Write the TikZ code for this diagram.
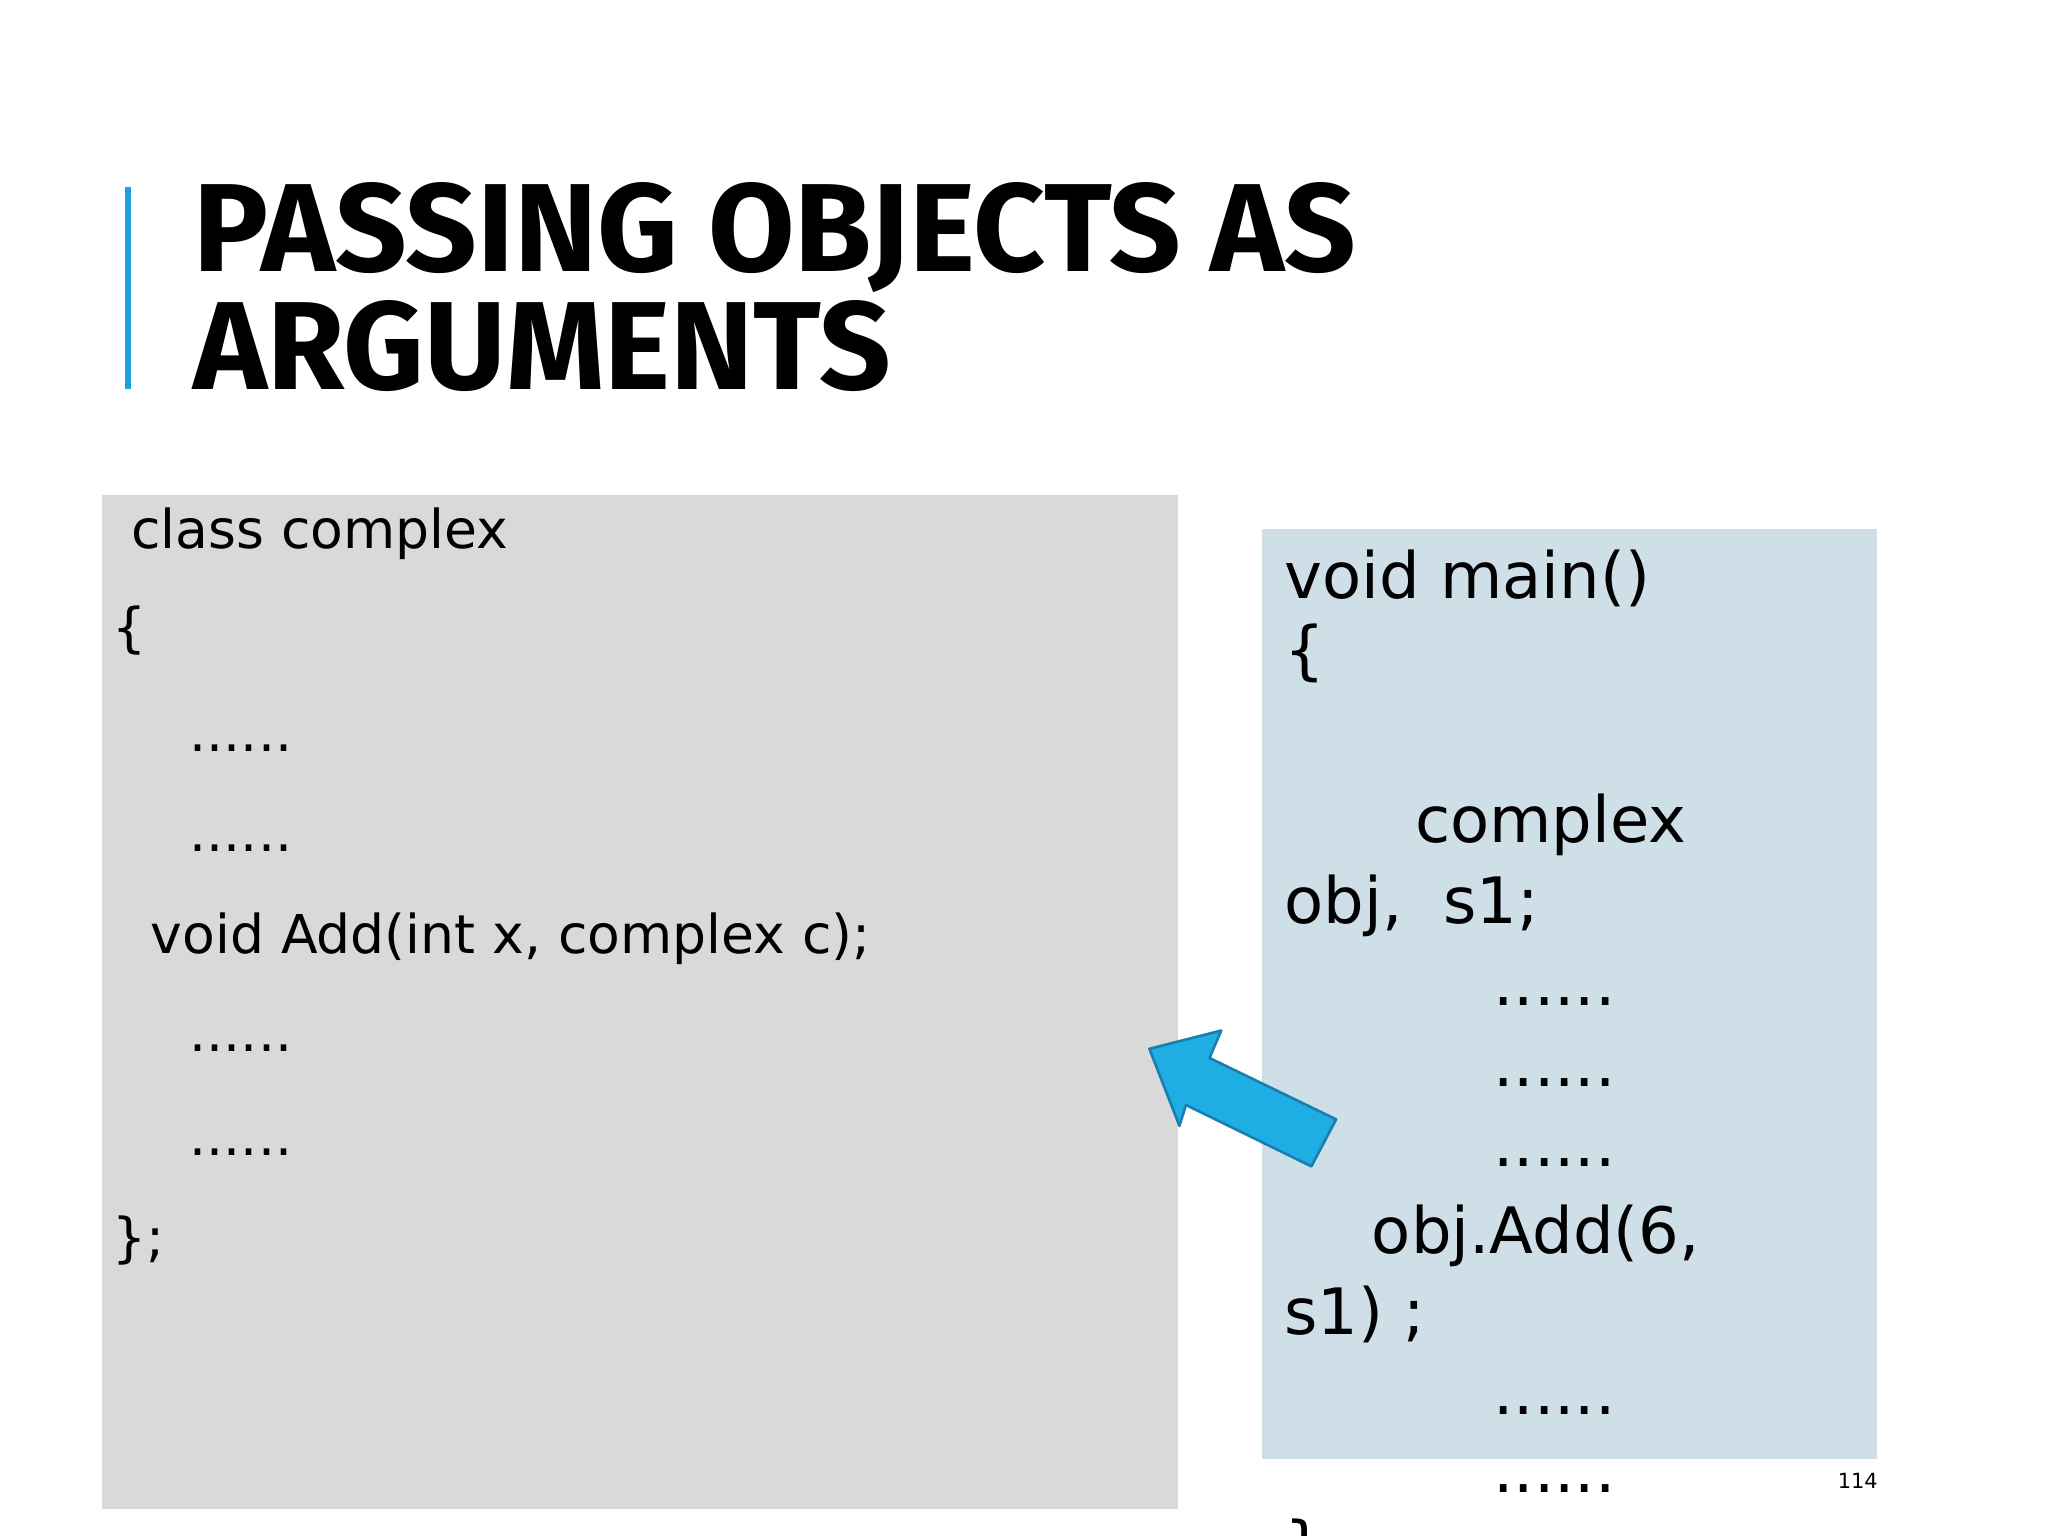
\documentclass[tikz,border=0pt]{standalone}
\usepackage{fontspec}
\setmainfont{DejaVu Sans}
\newfontfamily\titlefont{Fira Sans}
\definecolor{graybox}{HTML}{D9D9D9}
\definecolor{bluebox}{HTML}{CFDFE8}
\definecolor{arrowfill}{HTML}{1EAEE3}
\definecolor{arrowline}{HTML}{1A7FB0}
\definecolor{accent}{HTML}{1BA1E2}
\tikzset{
 lcode/.style={anchor=base west,inner sep=0pt,font=\fontsize{20.5}{24}\selectfont},
 rcode/.style={anchor=base west,inner sep=0pt,font=\fontsize{24.5}{28}\selectfont},
 ttl/.style={anchor=base west,inner sep=0pt,font=\titlefont\bfseries\fontsize{48}{56}\selectfont}
}
\begin{document}
\begin{tikzpicture}[x=0.5pt,y=-0.5pt]
\useasboundingbox (0,0) rectangle (1568,1176);
\clip (0,0) rectangle (1568,1176);
\fill[white] (0,0) rectangle (1568,1176);
\draw[accent,line width=2pt] (98,143) -- (98,298);
\node[ttl] (t1) at (148,208) {PASSING OBJECTS AS};
\node[ttl] (t2) at (148,298) {ARGUMENTS};
\fill[graybox] (78,379) rectangle (902,1155);
\fill[bluebox] (966,405) rectangle (1437,1117);
\node[lcode] (l1) at (100,420) {class complex};
\node[lcode] (l2) at (86,495) {\{};
\node[lcode] (l3) at (145,575) {......};
\node[lcode] (l4) at (145,652) {......};
\node[lcode] (l5) at (115,730) {void Add(int x, complex c);};
\node[lcode] (l6) at (145,805) {......};
\node[lcode] (l7) at (145,885) {......};
\node[lcode] (l8) at (86,962) {\};};
\node[rcode] (r1) at (983,458) {void main()};
\node[rcode] (r2) at (983,515) {\{};
\node[rcode] (r3) at (1083,645) {complex};
\node[rcode] (r4) at (983,707) {obj,\ \ s1;};
\node[rcode] (r5) at (1143,770) {......};
\node[rcode] (r6) at (1143,832) {......};
\node[rcode] (r7) at (1143,893) {......};
\node[rcode] (r8) at (1050,960) {obj.Add(6,};
\node[rcode] (r9) at (983,1022) {s1) ;};
\node[rcode] (r10) at (1143,1083) {......};
\node[rcode] (r11) at (1143,1143) {......};
\node[rcode] (r12) at (983,1200) {\}};
\node[anchor=base east,inner sep=0pt,font=\fontsize{8}{10}\selectfont] (pg) at (1438,1140) {114};
\draw[arrowline,fill=arrowfill,line width=1pt,line join=round]
 (880,803) -- (935,789) -- (926,810) -- (1023,857) -- (1004,893) -- (908,846) -- (903,862) -- cycle;
\end{tikzpicture}
\end{document}
